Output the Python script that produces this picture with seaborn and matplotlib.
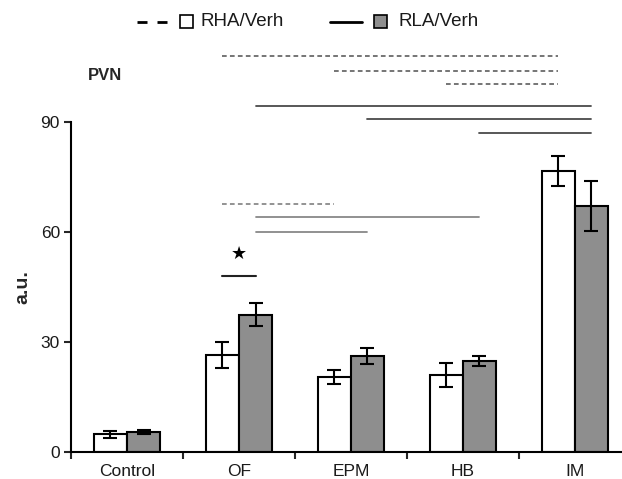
import matplotlib
matplotlib.use("Agg")
import matplotlib.pyplot as plt
from matplotlib.lines import Line2D
from matplotlib.patches import Rectangle
import seaborn as sns
import pandas as pd
import numpy as np

# ---- data ----
groups = ["Control", "OF", "EPM", "HB", "IM"]
strains = ["RHA/Verh", "RLA/Verh"]
rha_mean = [4.8, 26.5, 20.5, 20.9, 76.6]
rha_err = [0.9, 3.5, 2.0, 3.3, 4.1]
rla_mean = [5.4, 37.5, 26.2, 24.8, 67.1]
rla_err = [0.5, 3.2, 2.2, 1.4, 6.7]
yticks = [0, 30, 60, 90]

# significance comparisons: (strain index, from group, to group, level, colour, style)
comparisons = [
    (0, "OF", "IM", 108.0, "#6a6a6a", "dash"),
    (0, "EPM", "IM", 104.0, "#6a6a6a", "dash"),
    (0, "HB", "IM", 100.3, "#6a6a6a", "dash"),
    (1, "OF", "IM", 94.4, "#4a4a4a", "solid"),
    (1, "EPM", "IM", 90.7, "#4a4a4a", "solid"),
    (1, "HB", "IM", 86.9, "#4a4a4a", "solid"),
    (0, "OF", "EPM", 67.6, "#8a8a8a", "dash"),
    (1, "OF", "HB", 64.0, "#888888", "solid"),
    (1, "OF", "EPM", 60.1, "#888888", "solid"),
]
star_group = "OF"
star_line_level = 48.1
star_level = 54.0

df = pd.DataFrame({
    "group": groups * 2,
    "strain": [strains[0]] * len(groups) + [strains[1]] * len(groups),
    "value": rha_mean + rla_mean,
})

sns.set_style("ticks")
plt.rcParams["font.family"] = ["Liberation Sans", "DejaVu Sans"]

fig = plt.figure(figsize=(6.22, 4.79), dpi=100)
ax = fig.add_axes([71 / 622, 27 / 479, 551 / 622, 330 / 479])

gray = "#8e8e8e"
sns.barplot(data=df, x="group", y="value", hue="strain", order=groups,
            hue_order=strains, palette=["white", gray], edgecolor="black",
            linewidth=1.5, width=0.59, errorbar=None, legend=False, ax=ax)

centers = []
for ci, (cont, means, errs) in enumerate(zip(ax.containers, [rha_mean, rla_mean], [rha_err, rla_err])):
    xs = [p.get_x() + p.get_width() / 2 for p in cont.patches]
    centers.append(xs)
    ax.errorbar(xs, means, yerr=errs, fmt="none", ecolor="black",
                elinewidth=1.5, capsize=5, capthick=1.5, zorder=5)

gi = {g: i for i, g in enumerate(groups)}
for s, g1, g2, lvl, col, sty in comparisons:
    x1 = centers[s][gi[g1]]
    x2 = centers[s][gi[g2]]
    ls = (0, (2.6, 1.8)) if sty == "dash" else "-"
    ax.plot([x1, x2], [lvl, lvl], color=col, lw=1.3, ls=ls, clip_on=False)

k = gi[star_group]
ax.plot([centers[0][k], centers[1][k]], [star_line_level] * 2, color="#222222",
        lw=1.5, clip_on=False)
ax.text((centers[0][k] + centers[1][k]) / 2, star_level, "\u2605", ha="center",
        va="center", fontsize=13, family=["DejaVu Sans"], color="black")

ax.set_ylim(0, 90)
ax.set_xlim(-0.5, 4.42)
ax.set_yticks(yticks)
ax.set_yticklabels([str(v) for v in yticks], fontsize=12.5, color="#1a1a1a")
ax.set_xticks(range(len(groups)))
ax.set_xticklabels(groups, fontsize=12.5, color="#1a1a1a")
ax.tick_params(axis="x", which="major", length=0, pad=9)
ax.set_xticks([-0.5, 0.5, 1.5, 2.5, 3.5], minor=True)
ax.tick_params(axis="x", which="minor", length=5, width=1.5, direction="out")
ax.tick_params(axis="y", length=5, width=1.5, direction="out", pad=3)
for side in ["top", "right"]:
    ax.spines[side].set_visible(False)
for side in ["left", "bottom"]:
    ax.spines[side].set_linewidth(1.5)
    ax.spines[side].set_color("black")
ax.set_xlabel("")
ax.set_ylabel("a.u.", fontsize=14, weight="bold")
ax.yaxis.set_label_coords(-0.072, 0.5)

fig.text(88 / 622, 1 - 75 / 479, "PVN", fontsize=12, weight="bold",
         ha="left", va="center")

# legend
def fx(px):
    return px / 622

def fy(py):
    return 1 - py / 479

ly = 21.5
fig.add_artist(Line2D([fx(137), fx(168)], [fy(ly), fy(ly)], color="black",
                      lw=2, ls=(0, (3.6, 3.6)), transform=fig.transFigure))
fig.add_artist(Rectangle((fx(180), fy(28)), fx(13), 13 / 479, facecolor="white",
                         edgecolor="black", lw=1.2, transform=fig.transFigure))
fig.text(fx(200), fy(ly), strains[0], fontsize=13.5, ha="left", va="center",
         color="#1a1a1a")
fig.add_artist(Line2D([fx(330), fx(362)], [fy(ly), fy(ly)], color="black",
                      lw=2, transform=fig.transFigure))
fig.add_artist(Rectangle((fx(374), fy(28)), fx(13), 13 / 479, facecolor=gray,
                         edgecolor="black", lw=1.2, transform=fig.transFigure))
fig.text(fx(398), fy(ly), strains[1], fontsize=13.5, ha="left", va="center",
         color="#1a1a1a")

fig.savefig("out.png", dpi=100)
